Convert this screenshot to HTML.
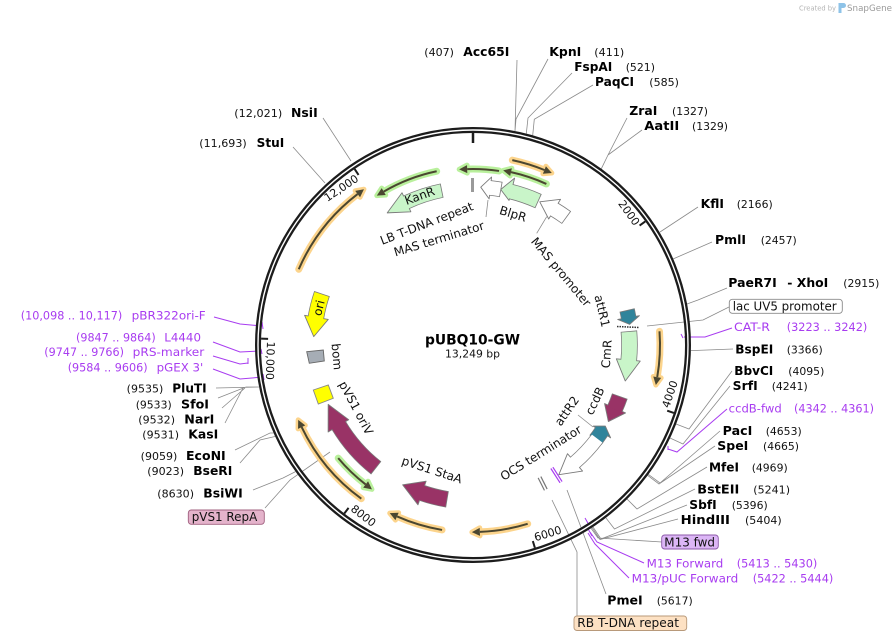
<!DOCTYPE html>
<html><head><meta charset="utf-8"><style>
html,body{margin:0;padding:0;background:#fff;}
svg{display:block;}
.n{font-family:"DejaVu Sans","Liberation Sans",sans-serif;font-size:11px;fill:#111;}
.b{font-family:"DejaVu Sans","Liberation Sans",sans-serif;font-size:12px;font-weight:bold;fill:#000;}
.p{font-family:"DejaVu Sans","Liberation Sans",sans-serif;font-size:11.5px;fill:#a83cf0;}
.f{font-family:"DejaVu Sans","Liberation Sans",sans-serif;font-size:12px;fill:#111;}
.t{font-family:"DejaVu Sans","Liberation Sans",sans-serif;font-size:11px;fill:#111;}
.tk{stroke:#1c1c1c;stroke-width:2;}
</style></head><body>
<svg width="896" height="641" viewBox="0 0 896 641" xmlns="http://www.w3.org/2000/svg">
<rect width="896" height="641" fill="#fff"/>

<!-- watermark -->
<text x="799" y="10.5" style="font-family:'DejaVu Sans',sans-serif;font-size:7px;fill:#b4b4b4" textLength="37" lengthAdjust="spacingAndGlyphs">Created by</text>
<path d="M838.5,3 h5 a2.5,2.5 0 0 1 0,5 h-2 v5 h-3 z" fill="#8ec3e8"/>
<text x="847" y="11" style="font-family:'DejaVu Sans',sans-serif;font-size:9px;fill:#9a9a9a" textLength="45" lengthAdjust="spacingAndGlyphs">SnapGene</text>

<!-- leader lines (gray) -->
<path fill="none" stroke="#8a8a8a" stroke-width="0.8" d="
M517,60 L515,131
M548,59 L516,119 L515,131
M572,73 L528,118 L526.3,133.6
M593,85 L534.3,119.3 L532.7,135.3
M627,118 L608,155 L601.3,168.8
M642,130 L608,155
M323,118 L351,161
M293,147 L325,183
M698,207 L660,232
M712,242 L673,259
M727,288 L698,300 L687,304
M729,307 L703,320 L647,326
M733,349 L691,350.6
M732,371 L689,429 L676,424
M730,386 L683,444 L670,438
M720,431 L660,483 L648.4,474.4
M715,446 L659,484 L647.7,475.4
M707,467 L637,509 L627,499
M695,489 L614.5,529 L606,518
M687,505 L601,539 L593,527
M678,519 L600,539.5 L592,527.5
M662,542 L598,538 L588,524
M606,594 L567,490
M577,616 L577,552 L552,500
M216,388 L259,387
M218,398 L246,387 L259,387
M222,408 L245,388
M225,423 L243,388
M235,450 L270,433 L273.6,433
M240,463 L260,440 L275,436.5
M253,490 L283,478 L295.5,471.6
M265,508 L290,480 L330,452
M488,200 L486,217
M546.7,216.7 L536.7,233.3
M578,415 L593,427
"/>
<!-- purple leader lines -->
<path fill="none" stroke="#a83cf0" stroke-width="1" d="
M732,328 L705,337 L684,337 M681,334 L683,338
M727,409 L677,452 L668,449 M668,446 L668,450
M644,563 L597,542 L590,532
M629,578 L595,544 L588,533
M585,518 L589,525 M587,527 L592,536
M214,317 L240,324 L262,326 M262,322 L263,329
M213,342 L240,352 L260,351 M261,349 L262,354
M213,356 L240,364 L248,363 M248,358 L248,364
M213,369 L240,379 L263,377 M263,374 L264,380
"/>

<!-- ring -->
<circle cx="473" cy="345" r="215" fill="none" stroke="#1c1c1c" stroke-width="6"/>
<circle cx="473" cy="345" r="215" fill="none" stroke="#fff" stroke-width="1.4"/>
<line x1="473" y1="131" x2="473" y2="143" stroke="#1c1c1c" stroke-width="2.5"/>

<!-- tick labels -->
<g transform="rotate(54.344 473 345)"><line x1="473" y1="133" x2="473" y2="140" class="tk"/><text x="470.5" y="145" text-anchor="end" class="t">2000</text></g>
<g transform="rotate(-71.312 473 345)"><line x1="473" y1="550" x2="473" y2="557" class="tk"/><text x="475.5" y="551" class="t">4000</text></g>
<g transform="rotate(-16.969 473 345)"><line x1="473" y1="550" x2="473" y2="557" class="tk"/><text x="475.5" y="551" class="t">6000</text></g>
<g transform="rotate(37.375 473 345)"><line x1="473" y1="550" x2="473" y2="557" class="tk"/><text x="475.5" y="551" class="t">8000</text></g>
<g transform="rotate(91.719 473 345)"><line x1="473" y1="550" x2="473" y2="557" class="tk"/><text x="475.5" y="551" class="t">10,000</text></g>
<g transform="rotate(-33.937 473 345)"><line x1="473" y1="133" x2="473" y2="140" class="tk"/><text x="470.5" y="145" text-anchor="end" class="t">12,000</text></g>

<!-- thin arrows: orange -->
<g fill="none" stroke="#fcd48c" stroke-width="7" stroke-linecap="round">
<circle cx="473" cy="345" r="189" stroke-dasharray="33.65 3000" transform="rotate(-78 473 345)"/>
<circle cx="473" cy="345" r="190" stroke-dasharray="96.5 3000" transform="rotate(-156.5 473 345)"/>
<circle cx="473" cy="345" r="187" stroke-dasharray="46.0 3000" transform="rotate(-4.2 473 345)"/>
<circle cx="473" cy="345" r="187" stroke-dasharray="48.6 3000" transform="rotate(73 473 345)"/>
<circle cx="473" cy="345" r="187.5" stroke-dasharray="47.1 3000" transform="rotate(99.5 473 345)"/>
<circle cx="473" cy="345" r="190" stroke-dasharray="94.2 3000" transform="rotate(126 473 345)"/>
</g>
<g fill="#fcd48c" stroke="#fcd48c" stroke-width="5" stroke-linejoin="round">
<polygon points="473,152 473,160 481,156" transform="rotate(22.2 473 345)"/>
<polygon points="473,151 473,159 481,155" transform="rotate(-37.4 473 345)"/>
<polygon points="473,154 473,162 481,158" transform="rotate(99.9 473 345)"/>
<polygon points="473,154 473,162 481,158" transform="rotate(177.9 473 345)"/>
<polygon points="473,153.5 473,161.5 481,157.5" transform="rotate(203.9 473 345)"/>
<polygon points="473,151 473,159 481,155" transform="rotate(244.4 473 345)"/>
</g>
<!-- thin arrows: green halos -->
<g fill="none" stroke="#b9f09c" stroke-width="7" stroke-linecap="round">
<circle cx="473" cy="345" r="176" stroke-dasharray="31.95 3000" transform="rotate(-91.9 473 345)"/>
<circle cx="473" cy="345" r="177" stroke-dasharray="37.38 3000" transform="rotate(-77.6 473 345)"/>
<circle cx="473" cy="345" r="177.5" stroke-dasharray="57.0 3000" transform="rotate(-120.2 473 345)"/>
<circle cx="473" cy="345" r="176" stroke-dasharray="38.1 3000" transform="rotate(127.6 473 345)"/>
</g>
<g fill="#b9f09c" stroke="#b9f09c" stroke-width="5" stroke-linejoin="round">
<polygon points="473,165 473,173 465,169" transform="rotate(-1.9 473 345)"/>
<polygon points="473,164 473,172 465,168" transform="rotate(12.4 473 345)"/>
<polygon points="473,163.5 473,171.5 465,167.5" transform="rotate(-30.2 473 345)"/>
<polygon points="473,165 473,173 465,169" transform="rotate(217.6 473 345)"/>
</g>
<!-- dark center lines -->
<g fill="none" stroke="#4a4630" stroke-width="2">
<circle cx="473" cy="345" r="189" stroke-dasharray="33.65 3000" transform="rotate(-78 473 345)"/>
<circle cx="473" cy="345" r="190" stroke-dasharray="96.5 3000" transform="rotate(-156.5 473 345)"/>
<circle cx="473" cy="345" r="187" stroke-dasharray="46.0 3000" transform="rotate(-4.2 473 345)"/>
<circle cx="473" cy="345" r="187" stroke-dasharray="48.6 3000" transform="rotate(73 473 345)"/>
<circle cx="473" cy="345" r="187.5" stroke-dasharray="47.1 3000" transform="rotate(99.5 473 345)"/>
<circle cx="473" cy="345" r="190" stroke-dasharray="94.2 3000" transform="rotate(126 473 345)"/>
<circle cx="473" cy="345" r="176" stroke-dasharray="31.95 3000" transform="rotate(-91.9 473 345)"/>
<circle cx="473" cy="345" r="177" stroke-dasharray="37.38 3000" transform="rotate(-77.6 473 345)"/>
<circle cx="473" cy="345" r="177.5" stroke-dasharray="57.0 3000" transform="rotate(-120.2 473 345)"/>
<circle cx="473" cy="345" r="176" stroke-dasharray="38.1 3000" transform="rotate(127.6 473 345)"/>
</g>
<g fill="#4a4630">
<polygon points="473,152 473,160 481,156" transform="rotate(22.2 473 345)"/>
<polygon points="473,151 473,159 481,155" transform="rotate(-37.4 473 345)"/>
<polygon points="473,154 473,162 481,158" transform="rotate(99.9 473 345)"/>
<polygon points="473,154 473,162 481,158" transform="rotate(177.9 473 345)"/>
<polygon points="473,153.5 473,161.5 481,157.5" transform="rotate(203.9 473 345)"/>
<polygon points="473,151 473,159 481,155" transform="rotate(244.4 473 345)"/>
<polygon points="473,165 473,173 465,169" transform="rotate(-1.9 473 345)"/>
<polygon points="473,164 473,172 465,168" transform="rotate(12.4 473 345)"/>
<polygon points="473,163.5 473,171.5 465,167.5" transform="rotate(-30.2 473 345)"/>
<polygon points="473,165 473,173 465,169" transform="rotate(217.6 473 345)"/>
</g>

<!-- wide features -->
<g fill="none" stroke="#7a7a7a">
<circle cx="473" cy="345" r="157.5" stroke-width="14.5" stroke-dasharray="37.66 3000" transform="rotate(-115 473 345)"/>
<circle cx="473" cy="345" r="158" stroke-width="15.5" stroke-dasharray="28.95 3000" transform="rotate(-76 473 345)"/>
<circle cx="473" cy="345" r="158" stroke-width="15.5" stroke-dasharray="11.03 3000" transform="rotate(-83.7 473 345)"/>
<circle cx="473" cy="345" r="158" stroke-width="15.5" stroke-dasharray="14.62 3000" transform="rotate(-59 473 345)"/>
<circle cx="473" cy="345" r="158" stroke-width="15.5" stroke-dasharray="7.72 3000" transform="rotate(-12.8 473 345)"/>
<circle cx="473" cy="345" r="156.5" stroke-width="16.5" stroke-dasharray="28.95 3000" transform="rotate(-5.1 473 345)"/>
<circle cx="473" cy="345" r="155.5" stroke-width="16.5" stroke-dasharray="13.03 3000" transform="rotate(19.2 473 345)"/>
<circle cx="473" cy="345" r="155" stroke-width="15.5" stroke-dasharray="10.28 3000" transform="rotate(34 473 345)"/>
<circle cx="473" cy="345" r="155.5" stroke-width="14.5" stroke-dasharray="33.38 3000" transform="rotate(36.7 473 345)"/>
<circle cx="473" cy="345" r="156.5" stroke-width="16.5" stroke-dasharray="26.22 3000" transform="rotate(99.4 473 345)"/>
<circle cx="473" cy="345" r="156.5" stroke-width="16.5" stroke-dasharray="56.81 3000" transform="rotate(128.2 473 345)"/>
<circle cx="473" cy="345" r="159.5" stroke-width="16.5" stroke-dasharray="24.5 3000" transform="rotate(190 473 345)"/>
</g>
<g stroke="#7a7a7a" stroke-width="0.9" stroke-linejoin="round">
<polygon fill="#c9f5c9" points="473,177 473,198 451.1,189" transform="rotate(-25 473 345)"/>
<polygon fill="#c9f5c9" points="473,173 473,196 462.3,187.4" transform="rotate(14 473 345)"/>
<polygon fill="#ffffff" points="473,176 473,198 463.4,187.3" transform="rotate(6.3 473 345)"/>
<polygon fill="#ffffff" points="473,175 473,198 456.5,187.9" transform="rotate(31 473 345)"/>
<polygon fill="#30849b" points="473,176 473,198 479.9,187.2" transform="rotate(80 473 345)"/>
<polygon fill="#c9f5c9" points="473,177 473,201 494.2,190" transform="rotate(95.5 473 345)"/>
<polygon fill="#993366" points="473,178 473,201 487.9,190.2" transform="rotate(114 473 345)"/>
<polygon fill="#30849b" points="473,179 473,200 466.2,190" transform="rotate(124 473 345)"/>
<polygon fill="#ffffff" points="473,178 473,201 493.3,190.8" transform="rotate(139 473 345)"/>
<polygon fill="#993366" points="473,176 473,201 494,189.9" transform="rotate(199 473 345)"/>
<polygon fill="#993366" points="473,176 473,200 496.7,190.3" transform="rotate(239 473 345)"/>
<polygon fill="#ffff00" points="473,174 473,198 453.6,186.7" transform="rotate(280 473 345)"/>
</g>
<g fill="none">
<circle cx="473" cy="345" r="157.5" stroke="#c9f5c9" stroke-width="13" stroke-dasharray="38.21 3000" transform="rotate(-115.5 473 345)"/>
<circle cx="473" cy="345" r="158" stroke="#c9f5c9" stroke-width="14" stroke-dasharray="29.51 3000" transform="rotate(-76.5 473 345)"/>
<circle cx="473" cy="345" r="158" stroke="#ffffff" stroke-width="14" stroke-dasharray="11.58 3000" transform="rotate(-84.2 473 345)"/>
<circle cx="473" cy="345" r="158" stroke="#ffffff" stroke-width="14" stroke-dasharray="15.17 3000" transform="rotate(-59.5 473 345)"/>
<circle cx="473" cy="345" r="158" stroke="#30849b" stroke-width="14" stroke-dasharray="8.27 3000" transform="rotate(-12.5 473 345)"/>
<circle cx="473" cy="345" r="156.5" stroke="#c9f5c9" stroke-width="15" stroke-dasharray="29.5 3000" transform="rotate(-4.8 473 345)"/>
<circle cx="473" cy="345" r="155.5" stroke="#993366" stroke-width="15" stroke-dasharray="13.57 3000" transform="rotate(19.5 473 345)"/>
<circle cx="473" cy="345" r="155" stroke="#30849b" stroke-width="14" stroke-dasharray="10.82 3000" transform="rotate(33.5 473 345)"/>
<circle cx="473" cy="345" r="155.5" stroke="#ffffff" stroke-width="13" stroke-dasharray="33.92 3000" transform="rotate(37 473 345)"/>
<circle cx="473" cy="345" r="156.5" stroke="#993366" stroke-width="15" stroke-dasharray="26.77 3000" transform="rotate(99.7 473 345)"/>
<circle cx="473" cy="345" r="156.5" stroke="#993366" stroke-width="15" stroke-dasharray="57.36 3000" transform="rotate(128.5 473 345)"/>
<circle cx="473" cy="345" r="159.5" stroke="#ffff00" stroke-width="15" stroke-dasharray="25.05 3000" transform="rotate(189.5 473 345)"/>
</g>

<!-- small features -->
<rect x="471" y="178" width="3" height="14" fill="#9a9a9a"/>
<g transform="rotate(153.3 473 345)" stroke="#777" stroke-width="1.2"><line x1="471.5" y1="183" x2="471.5" y2="197"/><line x1="474.5" y1="183" x2="474.5" y2="197"/></g>
<g transform="rotate(147.3 473 345)" stroke="#a83cf0" stroke-width="1.2"><line x1="471.8" y1="182" x2="471.8" y2="199"/><line x1="474.2" y1="182" x2="474.2" y2="199"/></g>
<line x1="617" y1="326.5" x2="639" y2="327.5" stroke="#333" stroke-width="1.5" stroke-dasharray="1.5 1"/>
<polygon points="313.3,390 328.3,385 333.3,398.3 318.3,404" fill="#ffff00" stroke="#888" stroke-width="0.9"/>
<polygon points="306.7,351.7 323.3,350 324.3,361 309.3,363.3" fill="#a6adb5" stroke="#666" stroke-width="0.9"/>

<!-- inside feature labels -->
<g class="f" text-anchor="middle" dominant-baseline="central">
<text transform="translate(419.7,196) rotate(-19.7)">KanR</text>
<text transform="translate(426.7,223.5) rotate(-21)">LB T-DNA repeat</text>
<text transform="translate(439,239) rotate(-17)">MAS terminator</text>
<text transform="translate(513,214) rotate(17)">BlpR</text>
<text transform="translate(561,272) rotate(50)">MAS promoter</text>
<text transform="translate(602,311) rotate(77)">attR1</text>
<text transform="translate(606.7,354) rotate(-86)">CmR</text>
<text transform="translate(595,401) rotate(-65)">ccdB</text>
<text transform="translate(567,411) rotate(-55)">attR2</text>
<text transform="translate(541,453) rotate(-32)">OCS terminator</text>
<text transform="translate(432,470) rotate(18)">pVS1 StaA</text>
<text transform="translate(356,408) rotate(62)">pVS1 oriV</text>
<text transform="translate(336.7,356.7) rotate(85)">bom</text>
<text transform="translate(319,308) rotate(-76)">ori</text>
</g>

<!-- title -->
<text x="425" y="344.3" style="font-family:'DejaVu Sans',sans-serif;font-size:14px;font-weight:bold;fill:#000" textLength="95" lengthAdjust="spacingAndGlyphs">pUBQ10-GW</text>
<text x="445" y="357.3" class="n" textLength="55" lengthAdjust="spacingAndGlyphs">13,249 bp</text>

<!-- enzyme labels top -->
<g lengthAdjust="spacingAndGlyphs">
<text x="424.3" y="56" class="n" textLength="29.7" lengthAdjust="spacingAndGlyphs">(407)</text>
<text x="463.3" y="56" class="b" textLength="46" lengthAdjust="spacingAndGlyphs">Acc65I</text>
<text x="549.3" y="56" class="b" textLength="32" lengthAdjust="spacingAndGlyphs">KpnI</text>
<text x="594.3" y="56" class="n" textLength="30" lengthAdjust="spacingAndGlyphs">(411)</text>
<text x="574.3" y="71" class="b" textLength="38" lengthAdjust="spacingAndGlyphs">FspAI</text>
<text x="625.7" y="71" class="n" textLength="29.3" lengthAdjust="spacingAndGlyphs">(521)</text>
<text x="595" y="86" class="b" textLength="39" lengthAdjust="spacingAndGlyphs">PaqCI</text>
<text x="649.3" y="86" class="n" textLength="29.7" lengthAdjust="spacingAndGlyphs">(585)</text>
<text x="629.3" y="115" class="b" textLength="28" lengthAdjust="spacingAndGlyphs">ZraI</text>
<text x="672" y="115" class="n" textLength="36" lengthAdjust="spacingAndGlyphs">(1327)</text>
<text x="644.3" y="130" class="b" textLength="35" lengthAdjust="spacingAndGlyphs">AatII</text>
<text x="692" y="130" class="n" textLength="36" lengthAdjust="spacingAndGlyphs">(1329)</text>
<text x="234.3" y="117" class="n" textLength="48" lengthAdjust="spacingAndGlyphs">(12,021)</text>
<text x="291" y="117" class="b" textLength="26.7" lengthAdjust="spacingAndGlyphs">NsiI</text>
<text x="199.3" y="147" class="n" textLength="47.4" lengthAdjust="spacingAndGlyphs">(11,693)</text>
<text x="256.7" y="147" class="b" textLength="27.6" lengthAdjust="spacingAndGlyphs">StuI</text>

<!-- right -->
<text x="700.7" y="208" class="b" textLength="23.3" lengthAdjust="spacingAndGlyphs">KflI</text>
<text x="736.7" y="208" class="n" textLength="36" lengthAdjust="spacingAndGlyphs">(2166)</text>
<text x="715" y="244" class="b" textLength="31" lengthAdjust="spacingAndGlyphs">PmlI</text>
<text x="760.7" y="244" class="n" textLength="36" lengthAdjust="spacingAndGlyphs">(2457)</text>
<text x="728.3" y="287" class="b" textLength="48.4" lengthAdjust="spacingAndGlyphs">PaeR7I</text>
<text x="787.3" y="287" class="b" textLength="41" lengthAdjust="spacingAndGlyphs">- XhoI</text>
<text x="843.3" y="287" class="n" textLength="36" lengthAdjust="spacingAndGlyphs">(2915)</text>
<rect x="729.3" y="299.3" width="113" height="14" rx="3" fill="#fff" stroke="#8a8a8a" stroke-width="0.9"/>
<text x="732.7" y="310.5" class="f" textLength="104" lengthAdjust="spacingAndGlyphs">lac UV5 promoter</text>
<text x="734" y="331" class="p" textLength="36" lengthAdjust="spacingAndGlyphs">CAT-R</text>
<text x="786.7" y="331" class="p" textLength="80.6" lengthAdjust="spacingAndGlyphs">(3223 .. 3242)</text>
<text x="735.3" y="353.5" class="b" textLength="38" lengthAdjust="spacingAndGlyphs">BspEI</text>
<text x="786.7" y="353.5" class="n" textLength="36" lengthAdjust="spacingAndGlyphs">(3366)</text>
<text x="734.3" y="375" class="b" textLength="39" lengthAdjust="spacingAndGlyphs">BbvCI</text>
<text x="788.3" y="375" class="n" textLength="36" lengthAdjust="spacingAndGlyphs">(4095)</text>
<text x="732.7" y="390" class="b" textLength="25" lengthAdjust="spacingAndGlyphs">SrfI</text>
<text x="771.7" y="390" class="n" textLength="36" lengthAdjust="spacingAndGlyphs">(4241)</text>
<text x="728.7" y="412.7" class="p" textLength="53" lengthAdjust="spacingAndGlyphs">ccdB-fwd</text>
<text x="794" y="412.7" class="p" textLength="80" lengthAdjust="spacingAndGlyphs">(4342 .. 4361)</text>
<text x="722.7" y="435" class="b" textLength="29.6" lengthAdjust="spacingAndGlyphs">PacI</text>
<text x="765.7" y="435" class="n" textLength="36" lengthAdjust="spacingAndGlyphs">(4653)</text>
<text x="717.3" y="450" class="b" textLength="31" lengthAdjust="spacingAndGlyphs">SpeI</text>
<text x="763" y="450" class="n" textLength="36" lengthAdjust="spacingAndGlyphs">(4665)</text>
<text x="709" y="471.7" class="b" textLength="30" lengthAdjust="spacingAndGlyphs">MfeI</text>
<text x="751.7" y="471.7" class="n" textLength="36" lengthAdjust="spacingAndGlyphs">(4969)</text>
<text x="697.3" y="493.3" class="b" textLength="42" lengthAdjust="spacingAndGlyphs">BstEII</text>
<text x="753.3" y="493.3" class="n" textLength="36.7" lengthAdjust="spacingAndGlyphs">(5241)</text>
<text x="689.3" y="509" class="b" textLength="27.4" lengthAdjust="spacingAndGlyphs">SbfI</text>
<text x="731.7" y="509" class="n" textLength="36" lengthAdjust="spacingAndGlyphs">(5396)</text>
<text x="680.7" y="524" class="b" textLength="49.3" lengthAdjust="spacingAndGlyphs">HindIII</text>
<text x="745" y="524" class="n" textLength="36.7" lengthAdjust="spacingAndGlyphs">(5404)</text>
<rect x="661.7" y="535" width="56.6" height="14" rx="3" fill="#dcb6f6" stroke="#8c5aa8" stroke-width="0.9"/>
<text x="664.3" y="546.7" class="f" textLength="50.7" lengthAdjust="spacingAndGlyphs">M13 fwd</text>
<text x="646.7" y="567.7" class="p" textLength="76.6" lengthAdjust="spacingAndGlyphs">M13 Forward</text>
<text x="736.7" y="567.7" class="p" textLength="80.6" lengthAdjust="spacingAndGlyphs">(5413 .. 5430)</text>
<text x="631.7" y="582.7" class="p" textLength="106.6" lengthAdjust="spacingAndGlyphs">M13/pUC Forward</text>
<text x="752.7" y="582.7" class="p" textLength="80.6" lengthAdjust="spacingAndGlyphs">(5422 .. 5444)</text>
<text x="607.3" y="604.3" class="b" textLength="35.4" lengthAdjust="spacingAndGlyphs">PmeI</text>
<text x="656.7" y="604.3" class="n" textLength="36" lengthAdjust="spacingAndGlyphs">(5617)</text>
<rect x="574" y="616" width="112.7" height="14.5" rx="3" fill="#fde1c3" stroke="#b8997a" stroke-width="0.9"/>
<text x="577.3" y="627" class="f" textLength="101.7" lengthAdjust="spacingAndGlyphs">RB T-DNA repeat</text>

<!-- left -->
<text x="20.7" y="319.3" class="p" textLength="101.6" lengthAdjust="spacingAndGlyphs">(10,098 .. 10,117)</text>
<text x="131.7" y="319.3" class="p" textLength="74" lengthAdjust="spacingAndGlyphs">pBR322ori-F</text>
<text x="76" y="341.7" class="p" textLength="79.7" lengthAdjust="spacingAndGlyphs">(9847 .. 9864)</text>
<text x="164.3" y="341.7" class="p" textLength="36.7" lengthAdjust="spacingAndGlyphs">L4440</text>
<text x="44.3" y="356" class="p" textLength="79.7" lengthAdjust="spacingAndGlyphs">(9747 .. 9766)</text>
<text x="132.7" y="356" class="p" textLength="71.6" lengthAdjust="spacingAndGlyphs">pRS-marker</text>
<text x="67.7" y="371.7" class="p" textLength="80" lengthAdjust="spacingAndGlyphs">(9584 .. 9606)</text>
<text x="156.7" y="371.7" class="p" textLength="46.6" lengthAdjust="spacingAndGlyphs">pGEX 3'</text>
<text x="126.7" y="392.7" class="n" textLength="36.6" lengthAdjust="spacingAndGlyphs">(9535)</text>
<text x="172.3" y="392.7" class="b" textLength="34.4" lengthAdjust="spacingAndGlyphs">PluTI</text>
<text x="135.7" y="408.3" class="n" textLength="36" lengthAdjust="spacingAndGlyphs">(9533)</text>
<text x="181" y="408.3" class="b" textLength="28" lengthAdjust="spacingAndGlyphs">SfoI</text>
<text x="138.3" y="423.3" class="n" textLength="36.7" lengthAdjust="spacingAndGlyphs">(9532)</text>
<text x="184.3" y="423.3" class="b" textLength="30" lengthAdjust="spacingAndGlyphs">NarI</text>
<text x="142.3" y="438.3" class="n" textLength="36.7" lengthAdjust="spacingAndGlyphs">(9531)</text>
<text x="188.3" y="438.3" class="b" textLength="30" lengthAdjust="spacingAndGlyphs">KasI</text>
<text x="140.7" y="460" class="n" textLength="36.6" lengthAdjust="spacingAndGlyphs">(9059)</text>
<text x="186" y="460" class="b" textLength="39.7" lengthAdjust="spacingAndGlyphs">EcoNI</text>
<text x="147.3" y="475" class="n" textLength="36.7" lengthAdjust="spacingAndGlyphs">(9023)</text>
<text x="193.3" y="475" class="b" textLength="39" lengthAdjust="spacingAndGlyphs">BseRI</text>
<text x="157.3" y="497.3" class="n" textLength="36.7" lengthAdjust="spacingAndGlyphs">(8630)</text>
<text x="203.3" y="497.3" class="b" textLength="39.4" lengthAdjust="spacingAndGlyphs">BsiWI</text>
<rect x="188.3" y="510" width="76" height="14.3" rx="3" fill="#e4b3cb" stroke="#a0607f" stroke-width="0.9"/>
<text x="191.7" y="521" class="f" textLength="65.6" lengthAdjust="spacingAndGlyphs">pVS1 RepA</text>
</g>
</svg>
</body></html>
